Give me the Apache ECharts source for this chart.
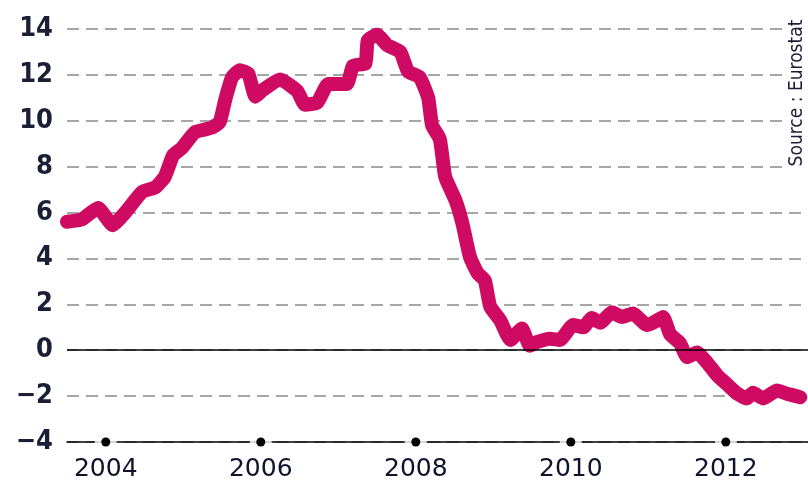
<!DOCTYPE html>
<html>
<head>
<meta charset="utf-8">
<script src="https://cdn.jsdelivr.net/npm/echarts@6/dist/echarts.min.js"></script>
<style>
html,body{margin:0;padding:0;background:#fff;}
#chart{width:808px;height:481px;}
</style>
</head>
<body>
<div id="chart"></div>
<script>
// Decimal years (x) and values (y, %)
const years = [2003.50,2003.69,2003.90,2004.09,2004.25,2004.47,2004.64,2004.76,2004.87,2004.98,
  2005.15,2005.37,2005.47,2005.54,2005.63,2005.73,2005.84,2005.93,2006.03,2006.25,
  2006.47,2006.57,2006.73,2006.87,2007.11,2007.19,2007.35,2007.38,2007.50,2007.63,
  2007.80,2007.90,2008.05,2008.16,2008.21,2008.31,2008.38,2008.51,2008.60,2008.70,
  2008.80,2008.89,2008.96,2009.09,2009.22,2009.37,2009.47,2009.56,2009.73,2009.86,
  2010.03,2010.16,2010.27,2010.38,2010.53,2010.66,2010.80,2010.98,2011.06,2011.19,
  2011.28,2011.41,2011.50,2011.63,2011.76,2011.89,2012.02,2012.15,2012.27,2012.35,
  2012.48,2012.66,2012.79,2012.96];
const values = [5.6,5.7,6.2,5.45,6.0,6.9,7.1,7.55,8.5,8.8,
  9.5,9.7,9.95,10.9,11.9,12.2,12.05,11.05,11.35,11.8,
  11.3,10.7,10.8,11.6,11.6,12.4,12.5,13.5,13.75,13.3,
  13.0,12.15,11.9,11.0,9.8,9.2,7.55,6.55,5.55,4.05,
  3.35,3.05,1.9,1.3,0.45,0.95,0.2,0.35,0.5,0.45,
  1.1,1.0,1.4,1.2,1.65,1.45,1.6,1.1,1.2,1.45,
  0.7,0.3,-0.3,-0.1,-0.55,-1.1,-1.5,-1.9,-2.1,-1.85,
  -2.1,-1.75,-1.9,-2.05];
const tickYears = [2004, 2006, 2008, 2010, 2012];
const yMin = -4, yMax = 14, yStep = 2;
const sourceText = 'Source : Eurostat';

const chart = echarts.init(document.getElementById('chart'), null, {renderer:'canvas'});
const narrow = '"Liberation Sans Narrow", "DejaVu Sans Condensed", sans-serif';
const option = {
  animation: false,
  backgroundColor: '#fff',
  grid: {left: 67, right: 0, top: 29, bottom: 39},
  xAxis: {
    type: 'value', min: 2003.5, max: 2013.06,
    axisLine: {show: true, onZero: false, lineStyle: {color: '#000', width: 1.5}},
    axisTick: {show: false}, axisLabel: {show: false}, splitLine: {show: false}
  },
  yAxis: {
    type: 'value', min: yMin, max: yMax, interval: yStep,
    axisLine: {show: false}, axisTick: {show: false},
    axisLabel: {
      margin: 14, fontFamily: narrow, fontWeight: 'bold', fontSize: 27, color: '#1b1f36',
      formatter: v => v < 0 ? '\u2212' + Math.abs(v) : String(v)
    },
    splitLine: {lineStyle: {type: [12, 7], color: '#a6a6a6', width: 2}}
  },
  series: [
    {
      type: 'line', data: [[2003.5, 0]], showSymbol: false, z: 1, silent: true,
      lineStyle: {opacity: 0},
      markLine: {silent: true, symbol: 'none', label: {show: false},
        lineStyle: {color: '#000', type: 'solid', width: 1.5}, data: [{yAxis: 0}]}
    },
    {
      type: 'line', data: years.map((y, i) => [y, values[i]]), showSymbol: false, z: 3,
      smooth: 0.15,
      lineStyle: {color: '#cf0a63', width: 14, cap: 'round', join: 'round'}
    },
    {
      type: 'scatter', data: tickYears.map(y => [y, yMin]), symbolSize: 22, clip: false, silent: true,
      itemStyle: {color: '#fff'}, z: 4
    },
    {
      type: 'scatter', data: tickYears.map(y => [y, yMin]), symbolSize: 9, clip: false, silent: true,
      itemStyle: {color: '#000', opacity: 1}, z: 5,
      label: {show: true, position: 'bottom', distance: 10,
        formatter: p => String(p.value[0]),
        fontFamily: '"DejaVu Sans", sans-serif', fontSize: 25, fontWeight: 500,
        color: '#10142b', opacity: 1}
    }
  ],
  graphic: [{
    type: 'text', x: 797, y: 93, rotation: Math.PI / 2, z: 100,
    style: {text: sourceText, font: '19px ' + narrow, fill: '#1b1f36', align: 'center', verticalAlign: 'middle',
      backgroundColor: '#fff', padding: [2, 6, 2, 6]}
  }]
};
chart.setOption(option);
</script>
</body>
</html>
